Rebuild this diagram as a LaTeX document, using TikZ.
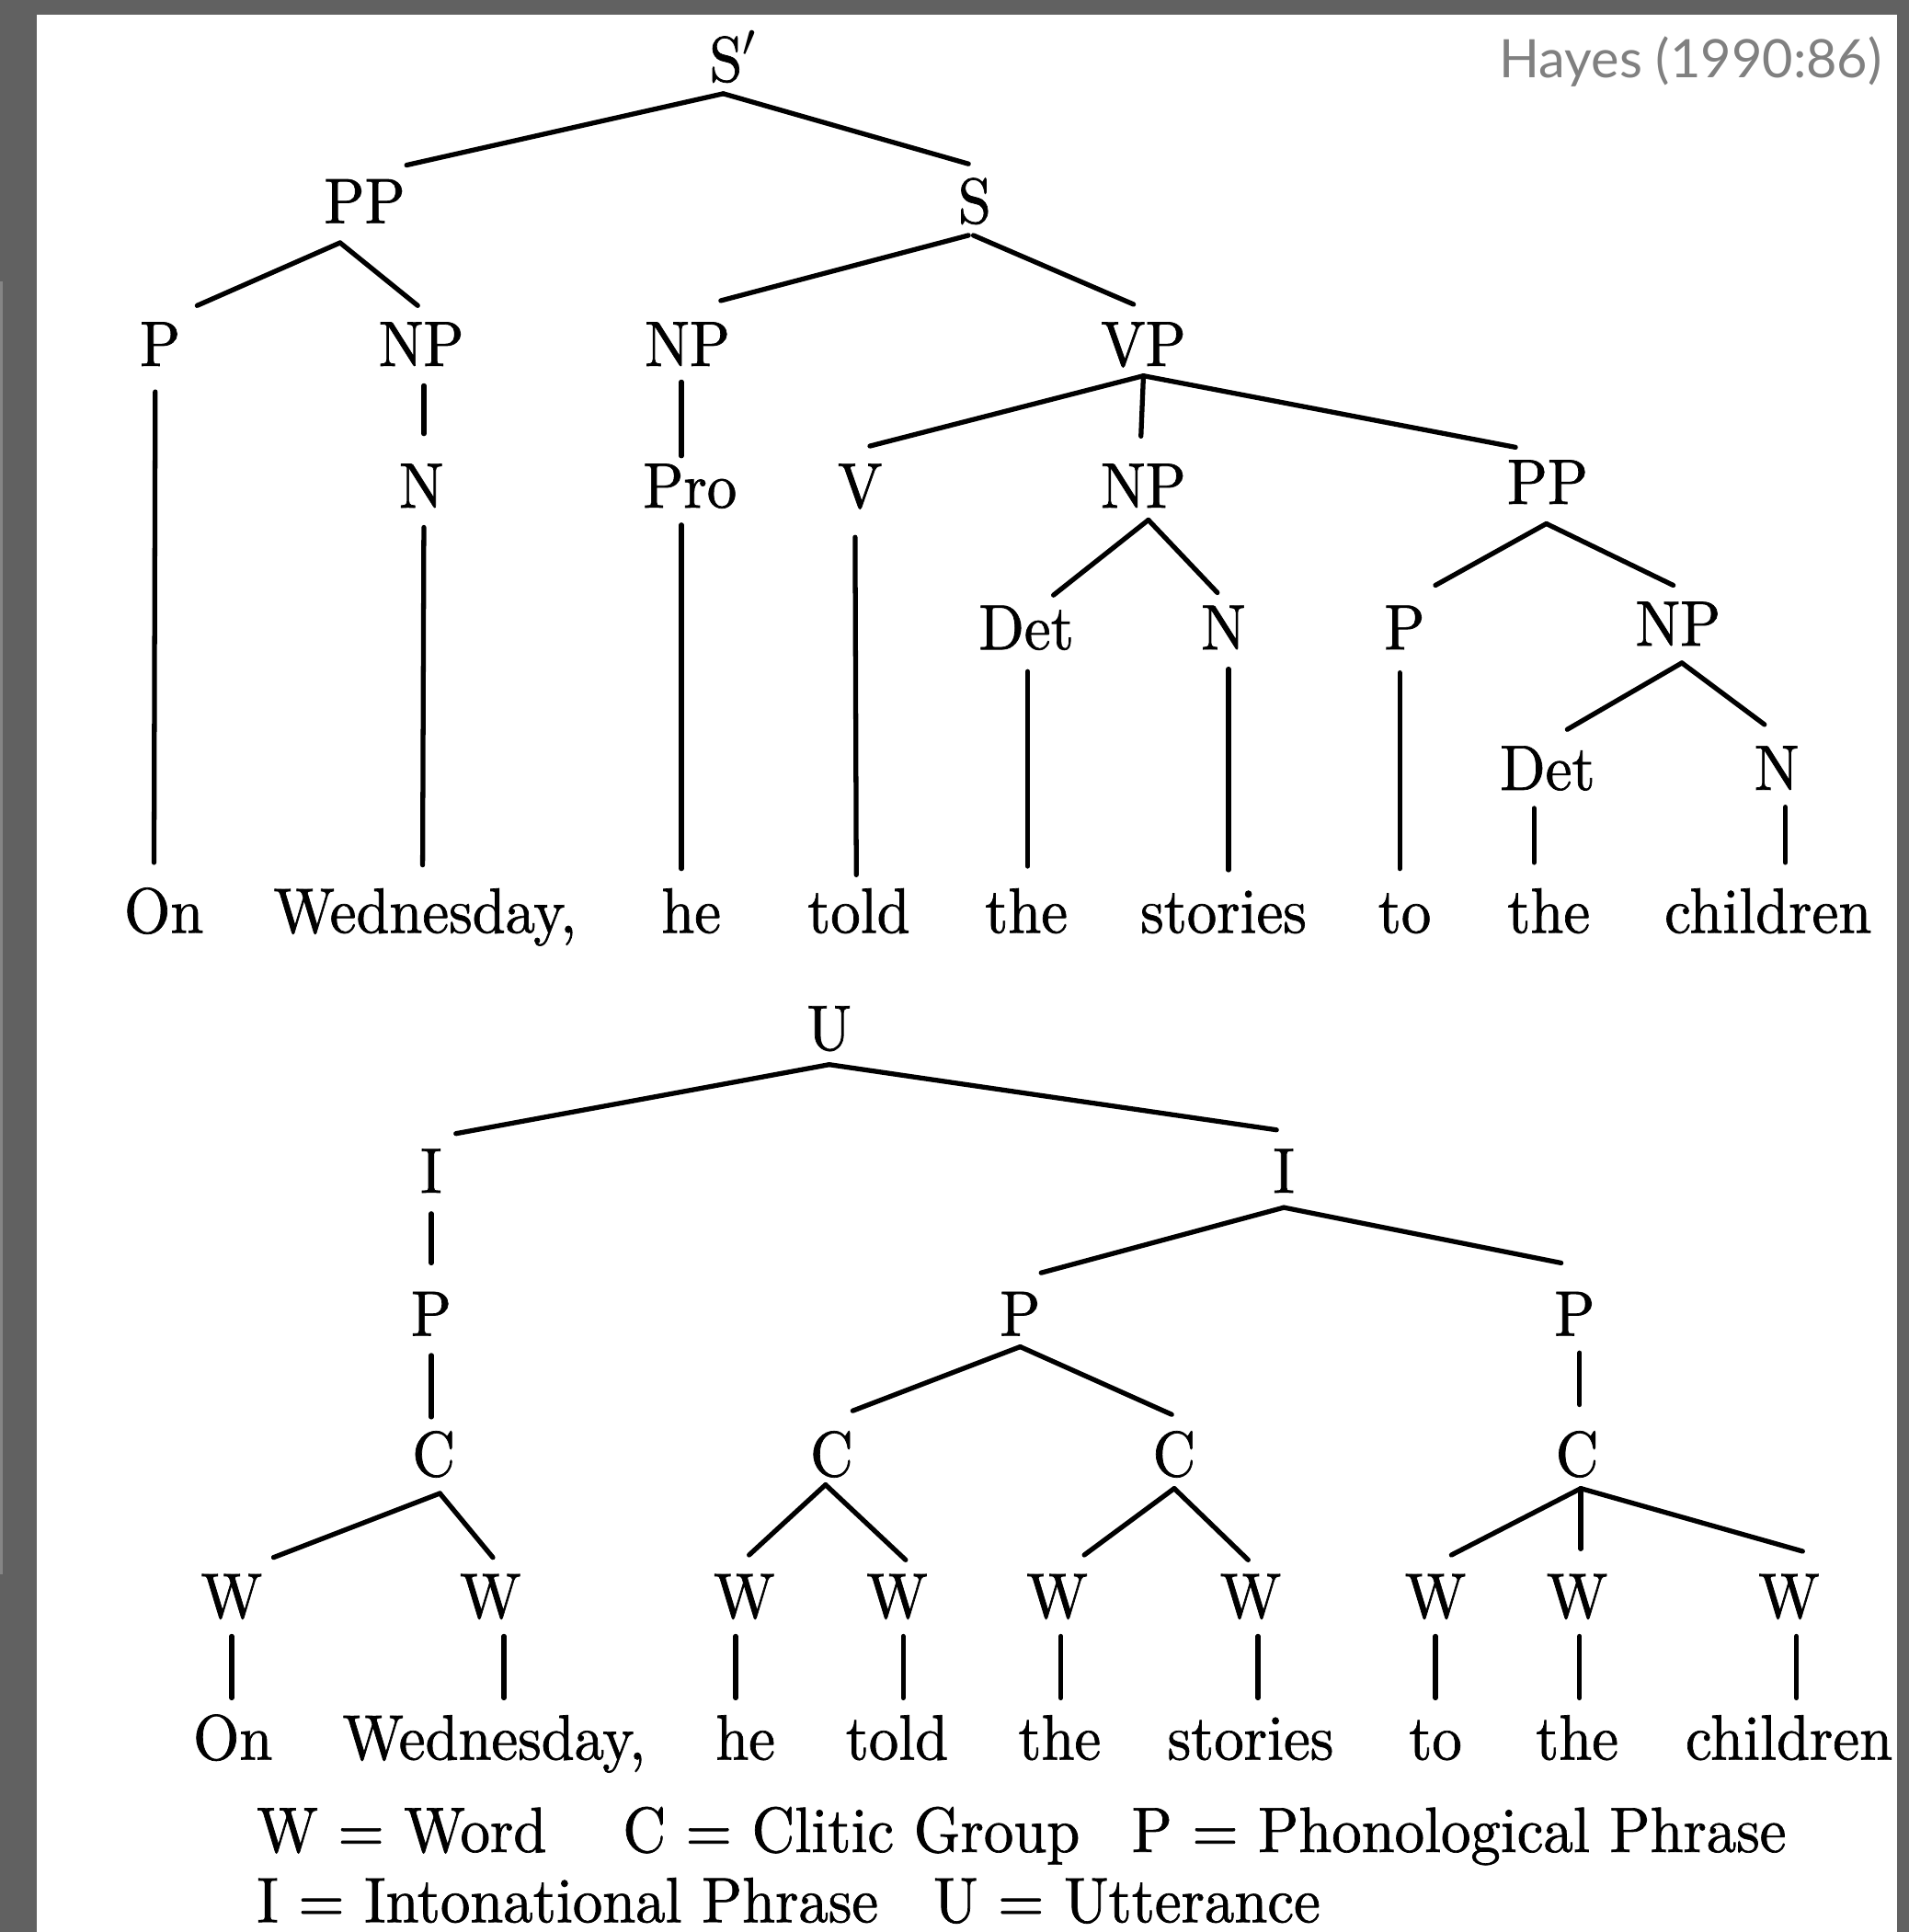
\documentclass[tikz,border=0pt]{standalone}
\usepackage{fontspec}
\newfontfamily\citefont{Lato}
\newfontfamily\treefont{lmroman10-regular.otf}[FakeBold=1.0,FakeStretch=0.93]
\newcommand\treeedge[6]{\draw[link] ([shift={(#2,#3)}]#1.base) -- ([shift={(#5,#6)}]#4.base);}
\begin{document}
\begin{tikzpicture}[x=0.0134cm,y=-0.0134cm,
  lab/.style={anchor=base,inner sep=0pt,font=\treefont\fontsize{19.8}{23}\selectfont},
  legend/.style={anchor=base west,inner sep=0pt,font=\treefont\fontsize{19.8}{23}\selectfont},
  link/.style={line width=1.5pt,line cap=round}]
\useasboundingbox (0,0) rectangle (1549,1568);
% frame
\fill[black!62] (0,0) rectangle (1549,1568);
\fill[black!48] (0,228) rectangle (2,1278);
\fill[white] (30,12) rectangle (1540,1568);
\node[anchor=base east,inner sep=0pt,text=black!50,font=\citefont\fontsize{16.4}{20}\selectfont] (cite) at (1528,63) {Hayes (1990:86)};

% ---------- syntactic tree ----------
\node[lab] (Sp)  at (595,66) {S$'$};
\node[lab] (PPa) at (296,181) {PP};
\node[lab] (S)   at (791,181) {S};
\node[lab] (Pa)  at (130,297) {P};
\node[lab] (NPa) at (342,297) {NP};
\node[lab] (NPb) at (558,297) {NP};
\node[lab] (VP)  at (928,297) {VP};
\node[lab] (Na)  at (342,412) {N};
\node[lab] (Pro) at (560,412) {Pro};
\node[lab] (V)   at (698,412) {V};
\node[lab] (NPc) at (928,412) {NP};
\node[lab] (PPb) at (1256,409) {PP};
\node[lab] (Deta) at (833,527) {Det};
\node[lab] (Nb)  at (993,527) {N};
\node[lab] (Pb)  at (1140,527) {P};
\node[lab] (NPd) at (1362,524) {NP};
\node[lab] (Detb) at (1256,641) {Det};
\node[lab] (Nc)  at (1442,641) {N};

\node[lab] (t1) at (133,757) {On};
\node[lab] (t2) at (345,757) {Wednesday,};
\node[lab] (t3) at (561,757) {he};
\node[lab] (t4) at (697,757) {told};
\node[lab] (t5) at (833,757) {the};
\node[lab] (t6) at (993,757) {stories};
\node[lab] (t7) at (1140,757) {to};
\node[lab] (t8) at (1257,757) {the};
\node[lab] (t9) at (1435,757) {children};

\treeedge{Sp}{-8}{10}{PPa}{34}{-47}
\treeedge{Sp}{-8}{10}{S}{-5}{-48}
\treeedge{PPa}{-20}{16}{Pa}{30}{-49}
\treeedge{PPa}{-20}{16}{NPa}{-3}{-49}
\treeedge{S}{-5}{10}{NPb}{27}{-53}
\treeedge{S}{-1}{10}{VP}{-8}{-50}
\treeedge{Pa}{-4}{21}{t1}{-8}{-57}
\treeedge{NPa}{2}{16}{Na}{2}{-60}
\treeedge{Na}{2}{16}{t2}{-2}{-55}
\treeedge{NPb}{-5}{13}{Pro}{-7}{-42}
\treeedge{Pro}{-7}{14}{t3}{-8}{-52}
\treeedge{VP}{0}{8}{V}{8}{-50}
\treeedge{VP}{0}{8}{NPc}{-2}{-58}
\treeedge{VP}{0}{8}{PPb}{-26}{-46}
\treeedge{V}{-4}{24}{t4}{-2}{-47}
\treeedge{NPc}{4}{10}{Deta}{22}{-44}
\treeedge{NPc}{4}{10}{Nb}{-5}{-46}
\treeedge{PPb}{-1}{16}{Pb}{25}{-52}
\treeedge{PPb}{-1}{16}{NPd}{-4}{-49}
\treeedge{Deta}{1}{18}{t5}{1}{-54}
\treeedge{Nb}{4}{16}{t6}{4}{-51}
\treeedge{Pb}{-4}{19}{t7}{-4}{-52}
\treeedge{NPd}{3}{14}{Detb}{16}{-49}
\treeedge{NPd}{3}{14}{Nc}{-10}{-53}
\treeedge{Detb}{-11}{15}{t8}{-12}{-57}
\treeedge{Nc}{7}{14}{t9}{14}{-57}

% ---------- prosodic tree ----------
\node[lab] (U)  at (673,852) {U};
\node[lab] (Ia) at (350,968) {I};
\node[lab] (Ib) at (1042,968) {I};
\node[lab] (Pc) at (350,1084) {P};
\node[lab] (Pd) at (828,1084) {P};
\node[lab] (Pe) at (1278,1084) {P};
\node[lab] (Ca) at (352,1198) {C};
\node[lab] (Cb) at (675,1198) {C};
\node[lab] (Cc) at (953,1198) {C};
\node[lab] (Cd) at (1280,1198) {C};
\node[lab] (W1) at (188,1313) {W};
\node[lab] (W2) at (398,1313) {W};
\node[lab] (W3) at (604,1313) {W};
\node[lab] (W4) at (728,1313) {W};
\node[lab] (W5) at (858,1313) {W};
\node[lab] (W6) at (1015,1313) {W};
\node[lab] (W7) at (1165,1313) {W};
\node[lab] (W8) at (1280,1313) {W};
\node[lab] (W9) at (1452,1313) {W};

\node[lab] (b1) at (189,1428) {On};
\node[lab] (b2) at (401,1428) {Wednesday,};
\node[lab] (b3) at (605,1428) {he};
\node[lab] (b4) at (728,1428) {told};
\node[lab] (b5) at (860,1428) {the};
\node[lab] (b6) at (1015,1428) {stories};
\node[lab] (b7) at (1165,1428) {to};
\node[lab] (b8) at (1280,1428) {the};
\node[lab] (b9) at (1452,1428) {children};

\treeedge{U}{0}{12}{Ia}{20}{-48}
\treeedge{U}{0}{12}{Ib}{-6}{-51}
\treeedge{Ia}{0}{17}{Pc}{0}{-59}
\treeedge{Ib}{0}{12}{Pd}{17}{-51}
\treeedge{Ib}{0}{12}{Pe}{-11}{-59}
\treeedge{Pc}{0}{16}{Ca}{-2}{-48}
\treeedge{Pd}{0}{9}{Cb}{17}{-53}
\treeedge{Pd}{0}{9}{Cc}{-2}{-50}
\treeedge{Pe}{4}{14}{Cd}{2}{-58}
\treeedge{Ca}{5}{14}{W1}{34}{-49}
\treeedge{Ca}{5}{14}{W2}{2}{-49}
\treeedge{Cb}{-5}{7}{W3}{4}{-51}
\treeedge{Cb}{-5}{7}{W4}{7}{-47}
\treeedge{Cc}{0}{10}{W5}{22}{-51}
\treeedge{Cc}{0}{10}{W6}{-2}{-47}
\treeedge{Cd}{3}{10}{W7}{13}{-51}
\treeedge{Cd}{3}{10}{W8}{3}{-56}
\treeedge{Cd}{3}{10}{W9}{11}{-54}
\treeedge{W1}{0}{15}{b1}{-1}{-50}
\treeedge{W2}{11}{15}{b2}{8}{-50}
\treeedge{W3}{-7}{15}{b3}{-8}{-50}
\treeedge{W4}{5}{15}{b4}{5}{-50}
\treeedge{W5}{3}{15}{b5}{1}{-50}
\treeedge{W6}{6}{15}{b6}{6}{-50}
\treeedge{W7}{0}{15}{b7}{0}{-50}
\treeedge{W8}{2}{15}{b8}{2}{-50}
\treeedge{W9}{6}{15}{b9}{6}{-50}

% ---------- key ----------
\node[legend] (kW) at (208,1503) {W = Word};
\node[legend] (kC) at (505,1503) {C = Clitic Group};
\node[legend] (kP) at (918,1503) {P = Phonological Phrase};
\node[legend] (kI) at (208,1560) {I = Intonational Phrase};
\node[legend] (kU) at (757,1560) {U = Utterance};
\end{tikzpicture}
\end{document}
